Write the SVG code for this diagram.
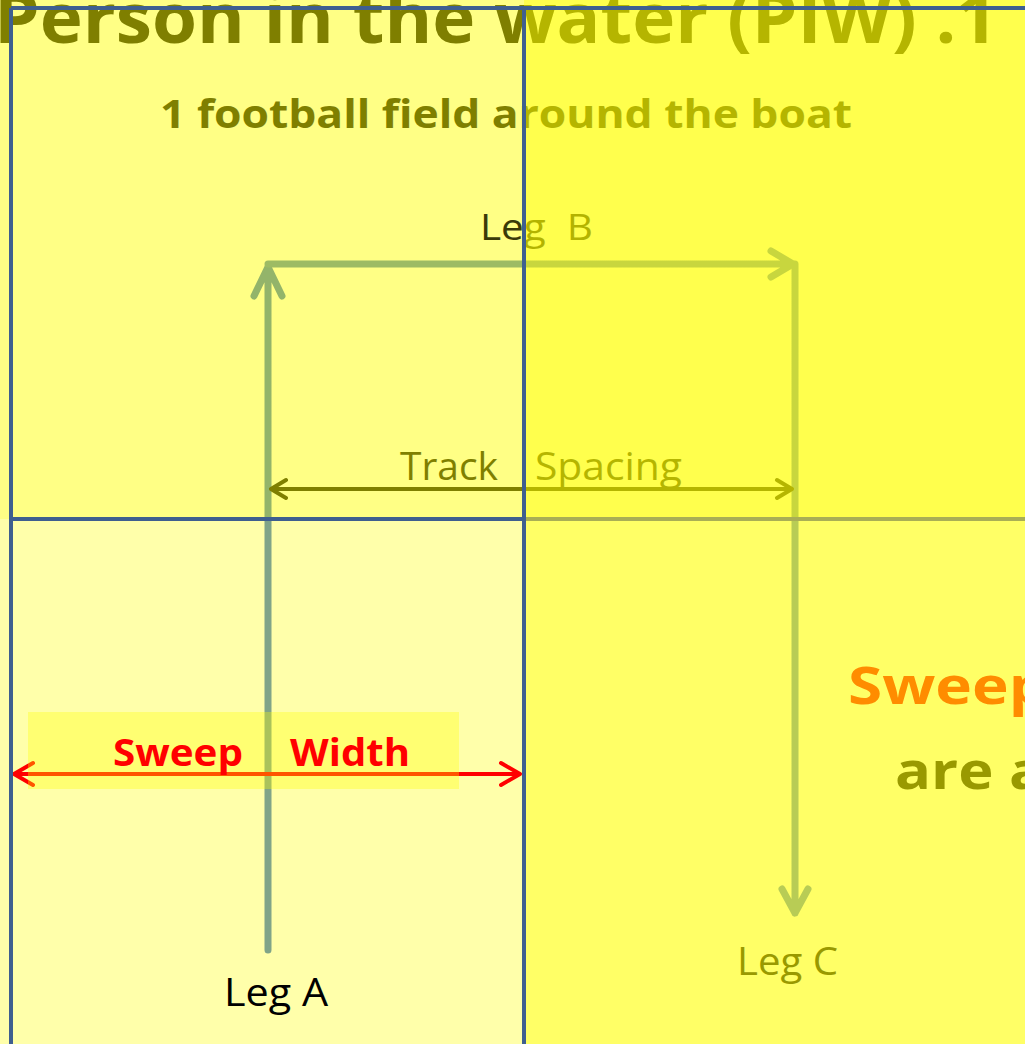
<svg xmlns="http://www.w3.org/2000/svg" width="1025" height="1044" viewBox="0 0 1025 1044">
<style>
text{font-family:"Open Sans","Noto Sans","Liberation Sans",sans-serif;white-space:pre}
.b{font-weight:bold}
.ln{fill:none;stroke-linecap:round;stroke-linejoin:round}
</style>
<defs>
<linearGradient id="gTitle" gradientUnits="userSpaceOnUse" x1="0" y1="0" x2="1025" y2="0"><stop offset="0.5112" stop-color="#7F7F00"/><stop offset="0.5112" stop-color="#B5B500"/></linearGradient>
<linearGradient id="gLegB" gradientUnits="userSpaceOnUse" x1="0" y1="0" x2="1025" y2="0"><stop offset="0.5112" stop-color="#3A3A08"/><stop offset="0.5112" stop-color="#B3B300"/></linearGradient>
<linearGradient id="gGreenH" gradientUnits="userSpaceOnUse" x1="0" y1="0" x2="1025" y2="0"><stop offset="0.5112" stop-color="#9DBB64"/><stop offset="0.5112" stop-color="#C8D63E"/></linearGradient>
<linearGradient id="gLegA" gradientUnits="userSpaceOnUse" x1="0" y1="0" x2="0" y2="1044"><stop offset="0.497" stop-color="#93B46A"/><stop offset="0.497" stop-color="#80A488"/></linearGradient>
<linearGradient id="gLegC" gradientUnits="userSpaceOnUse" x1="0" y1="0" x2="0" y2="1044"><stop offset="0.497" stop-color="#C8D63E"/><stop offset="0.497" stop-color="#B8CC55"/></linearGradient>
<linearGradient id="gHLine" gradientUnits="userSpaceOnUse" x1="0" y1="0" x2="1025" y2="0"><stop offset="0.5112" stop-color="#3F5F8F"/><stop offset="0.5112" stop-color="#A9AE55"/></linearGradient>
</defs>
<g id="background">
<rect x="0" y="0" width="524" height="519" fill="#FFFF85"/>
<rect x="524" y="0" width="501" height="519" fill="#FFFF4D"/>
<rect x="0" y="519" width="524" height="525" fill="#FFFFAA"/>
<rect x="524" y="519" width="501" height="525" fill="#FFFF66"/>
</g>
<g id="title">
<text class="b" x="-6" y="43" font-size="70" fill="url(#gTitle)" textLength="1004" lengthAdjust="spacingAndGlyphs">Person in the water (PIW) .1</text>
<text class="b" x="160" y="128" font-size="40" fill="url(#gTitle)" textLength="692" lengthAdjust="spacingAndGlyphs">1 football field around the boat</text>
</g>
<g id="connectors">
<g id="leg-a"><path class="ln" d="M268 950V267M254 296L268 267L282 296" stroke="url(#gLegA)" stroke-width="7"/></g>
<g id="leg-b"><path class="ln" d="M268 264H793M771 251L793 264L771 277" stroke="url(#gGreenH)" stroke-width="7"/></g>
<g id="leg-c"><path class="ln" d="M795 264V913M782 889L795 913L808 889" stroke="url(#gLegC)" stroke-width="7"/></g>
<g id="track-spacing-arrow"><path class="ln" d="M271 489H792M286 480L271 489L286 498M777 480L792 489L777 498" stroke="url(#gTitle)" stroke-width="4"/></g>
<g id="sweep-width-arrow"><path class="ln" d="M14 774H520M33 763L14 774L33 785M501 763L520 774L501 785" stroke="#FF0000" stroke-width="4"/></g>
</g>
<g id="sweep-width-box"><rect x="28" y="712" width="431" height="77" fill="#FFFF00" fill-opacity="0.33"/></g>
<g id="labels">
<g id="leg-b-label"><text xml:space="preserve" x="480" y="240" font-size="36" fill="url(#gLegB)" textLength="113" lengthAdjust="spacingAndGlyphs">Leg  B</text></g>
<g id="track-spacing-label"><text xml:space="preserve" x="400" y="480" font-size="38" fill="url(#gTitle)"><tspan x="400" textLength="98" lengthAdjust="spacingAndGlyphs">Track</tspan> <tspan x="535" textLength="147" lengthAdjust="spacingAndGlyphs">Spacing</tspan></text></g>
<g id="sweep-width-label"><text xml:space="preserve" class="b" x="113" y="766" font-size="38" fill="#FF0000"><tspan x="113" textLength="130" lengthAdjust="spacingAndGlyphs">Sweep</tspan> <tspan x="290" textLength="120" lengthAdjust="spacingAndGlyphs">Width</tspan></text></g>
<g id="leg-a-label"><text x="224" y="1006" font-size="38" fill="#000000" textLength="104" lengthAdjust="spacingAndGlyphs">Leg A</text></g>
<g id="leg-c-label"><text x="737" y="975" font-size="38" fill="#999900" textLength="101" lengthAdjust="spacingAndGlyphs">Leg C</text></g>
<g id="side-text">
<text class="b" x="848" y="704" font-size="52" fill="#FF8C00" textLength="200" lengthAdjust="spacingAndGlyphs">Sweep</text>
<text xml:space="preserve" class="b" x="895" y="789" font-size="52" fill="#999900" textLength="150" lengthAdjust="spacingAndGlyphs">are a</text>
</g>
</g>
<g id="grid">
<line x1="11" y1="8" x2="1025" y2="8" stroke="#3F5F8F" stroke-width="4"/>
<line x1="11" y1="519" x2="1025" y2="519" stroke="url(#gHLine)" stroke-width="4"/>
<line x1="11" y1="8" x2="11" y2="1044" stroke="#3F5F8F" stroke-width="4"/>
<line x1="524" y1="8" x2="524" y2="1044" stroke="#3F5F8F" stroke-width="4"/>
</g>
</svg>
